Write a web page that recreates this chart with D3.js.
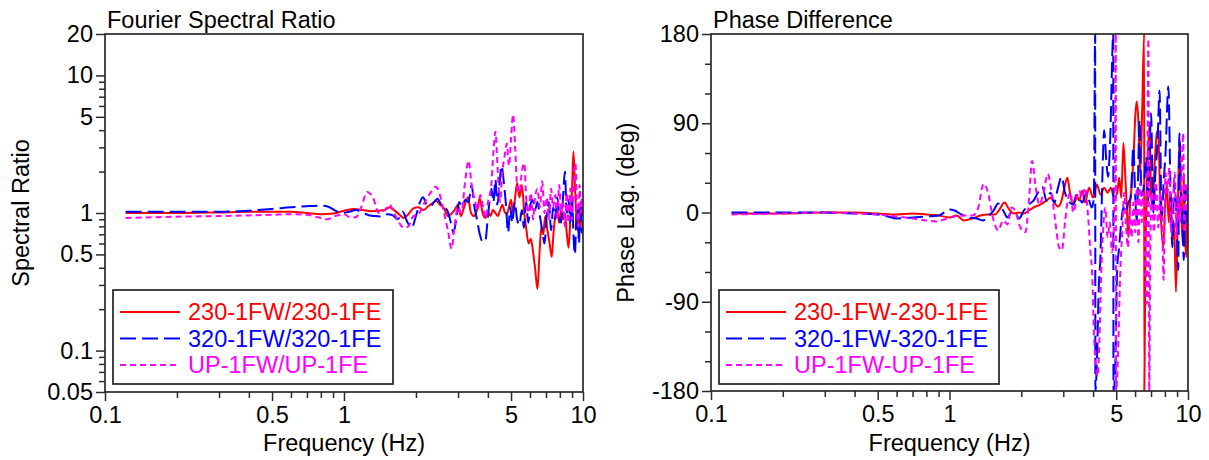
<!DOCTYPE html>
<html>
<head>
<meta charset="utf-8">
<script src="https://cdn.jsdelivr.net/npm/d3@7"></script>
<style>
  body { margin: 0; background: #fff; }
  text { font-family: "Liberation Sans", Arial, sans-serif; }
</style>
</head>
<body>
<svg id="chart" width="1209" height="460"></svg>
<script>
// ---- data: [frequency Hz, value] ----
const ratio230 = [[0.122,1.0],[0.2,1.0],[0.3,1.01],[0.4,1.02],[0.5,1.02],[0.6,1.02],[0.7,1.0],[0.8,0.98],[0.9,0.99],[1.0,1.04],[1.1,1.07],[1.2,1.05],[1.3,1.03],[1.4,1.04],[1.48,1.05],[1.55,1.1],[1.62,1.05],[1.7,0.98],[1.78,0.92],[1.86,0.98],[1.95,1.08],[2.05,1.1],[2.15,1.05],[2.25,1.12],[2.35,1.18],[2.43,1.22],[2.52,1.15],[2.62,1.08],[2.72,0.95],[2.8,0.98],[2.9,1.05],[3.0,1.15],[3.08,0.95],[3.18,1.1],[3.3,1.3],[3.4,1.0],[3.5,0.95],[3.6,1.05],[3.7,1.28],[3.8,1.0],[3.9,0.92],[4.0,1.02],[4.1,0.95],[4.2,1.05],[4.3,1.0],[4.4,0.95],[4.5,1.05],[4.6,1.15],[4.7,1.02],[4.8,0.98],[4.9,1.1],[5.0,1.25],[5.1,1.0],[5.2,1.3],[5.3,1.65],[5.42,1.3],[5.55,1.6],[5.68,1.0],[5.8,0.75],[5.92,0.6],[6.05,0.65],[6.18,0.52],[6.3,0.4],[6.45,0.28],[6.58,0.52],[6.7,0.8],[6.82,0.7],[6.95,0.95],[7.1,0.75],[7.25,0.6],[7.4,0.48],[7.52,0.7],[7.65,0.95],[7.8,1.05],[7.95,0.85],[8.1,1.05],[8.25,0.9],[8.4,1.0],[8.55,0.72],[8.7,0.56],[8.85,0.9],[9.0,1.5],[9.12,2.8],[9.25,1.6],[9.38,0.95],[9.5,0.75],[9.62,1.05],[9.75,0.8],[9.88,1.1],[10.0,0.95]];
const ratio320 = [[0.122,1.02],[0.2,1.02],[0.3,1.02],[0.4,1.04],[0.5,1.07],[0.6,1.1],[0.7,1.12],[0.8,1.13],[0.86,1.11],[0.92,1.04],[0.98,1.0],[1.05,1.02],[1.12,1.05],[1.2,1.0],[1.28,0.96],[1.36,0.95],[1.45,0.94],[1.52,0.98],[1.6,0.96],[1.68,0.9],[1.76,1.02],[1.84,0.86],[1.92,0.78],[2.0,0.95],[2.08,1.2],[2.14,1.3],[2.22,1.15],[2.3,1.12],[2.38,1.2],[2.46,1.27],[2.55,1.15],[2.64,1.1],[2.72,1.02],[2.8,0.85],[2.87,0.72],[2.95,0.9],[3.03,1.2],[3.12,1.12],[3.22,1.25],[3.32,1.2],[3.42,1.6],[3.5,1.15],[3.6,0.9],[3.7,0.7],[3.8,0.62],[3.9,0.62],[3.98,0.85],[4.06,1.2],[4.14,1.5],[4.22,1.2],[4.3,1.75],[4.38,1.15],[4.46,1.5],[4.56,2.2],[4.66,1.7],[4.76,1.15],[4.86,0.72],[4.96,1.1],[5.06,0.85],[5.18,1.2],[5.3,0.9],[5.42,0.82],[5.55,1.05],[5.66,0.78],[5.78,1.2],[5.9,0.85],[6.02,1.15],[6.15,1.25],[6.3,1.05],[6.45,1.2],[6.6,0.95],[6.75,0.75],[6.9,0.6],[7.05,0.95],[7.2,1.2],[7.35,0.75],[7.5,1.1],[7.65,0.9],[7.8,1.3],[7.95,0.95],[8.1,0.85],[8.25,1.3],[8.4,2.0],[8.55,1.0],[8.7,1.25],[8.85,0.85],[9.0,1.3],[9.12,0.7],[9.25,0.5],[9.38,0.95],[9.5,1.15],[9.62,0.6],[9.75,1.2],[9.88,0.72],[10.0,0.95]];
const ratioUP = [[0.122,0.92],[0.2,0.94],[0.3,0.95],[0.4,0.96],[0.5,0.97],[0.6,0.98],[0.7,0.97],[0.78,0.93],[0.85,0.9],[0.92,0.95],[1.0,0.98],[1.06,0.93],[1.12,0.93],[1.18,1.1],[1.25,1.42],[1.32,1.3],[1.4,1.0],[1.48,1.05],[1.55,1.15],[1.62,1.0],[1.7,0.85],[1.78,0.78],[1.86,0.8],[1.95,0.95],[2.05,0.98],[2.15,1.15],[2.3,1.4],[2.42,1.55],[2.52,1.35],[2.62,1.0],[2.72,0.75],[2.82,0.55],[2.9,0.8],[3.0,1.1],[3.1,1.0],[3.2,1.6],[3.32,2.4],[3.42,1.6],[3.52,1.25],[3.62,1.05],[3.72,1.35],[3.82,1.1],[3.92,0.92],[4.02,1.25],[4.12,1.5],[4.22,2.8],[4.3,3.9],[4.4,2.0],[4.5,1.2],[4.6,2.0],[4.7,2.6],[4.8,3.2],[4.9,2.2],[5.0,3.5],[5.1,5.2],[5.2,3.0],[5.3,1.6],[5.42,1.4],[5.55,2.0],[5.68,2.3],[5.8,1.2],[5.92,1.0],[6.05,1.4],[6.18,0.9],[6.3,1.3],[6.45,1.5],[6.6,1.1],[6.75,1.7],[6.9,1.0],[7.05,1.3],[7.2,0.9],[7.35,1.5],[7.5,1.1],[7.65,1.35],[7.8,0.9],[7.95,1.6],[8.1,1.0],[8.25,1.2],[8.4,0.8],[8.55,1.4],[8.7,0.85],[8.85,1.5],[9.0,0.9],[9.15,1.8],[9.3,2.3],[9.42,1.2],[9.55,0.8],[9.68,1.6],[9.8,1.0],[9.9,1.3],[10.0,1.1]];

const phase230 = [[0.122,-1],[0.2,-1],[0.3,0],[0.4,0],[0.5,-1],[0.6,-2],[0.7,-1],[0.8,-2],[0.9,-3],[1.0,-5],[1.07,-3],[1.15,-8],[1.25,-6],[1.35,-3],[1.45,-2],[1.55,-2],[1.62,3],[1.7,10],[1.78,3],[1.86,-1],[1.95,0],[2.05,-1],[2.15,2],[2.25,5],[2.4,8],[2.55,12],[2.65,15],[2.75,10],[2.85,6],[2.95,12],[3.05,28],[3.12,35],[3.2,20],[3.3,8],[3.4,18],[3.5,12],[3.6,22],[3.7,10],[3.85,25],[4.0,15],[4.15,28],[4.3,18],[4.45,25],[4.6,20],[4.75,25],[4.9,15],[5.05,20],[5.15,35],[5.25,15],[5.36,70],[5.45,40],[5.55,0],[5.62,-25],[5.72,10],[5.82,30],[5.92,60],[6.02,100],[6.1,112],[6.2,90],[6.3,40],[6.42,100],[6.55,180],[6.56,-180],[6.62,-60],[6.75,40],[6.9,90],[7.0,20],[7.1,5],[7.25,50],[7.4,80],[7.5,83],[7.65,10],[7.87,-35],[8.0,0],[8.15,30],[8.3,-10],[8.45,20],[8.6,-30],[8.75,-10],[8.9,-80],[9.05,-10],[9.2,75],[9.35,10],[9.5,-30],[9.6,40],[9.7,-20],[9.85,-45],[9.95,10],[10.0,-35]];
const phase320 = [[0.122,0],[0.2,0],[0.3,0],[0.4,-1],[0.5,-2],[0.55,-4],[0.6,-6],[0.7,-5],[0.8,-4],[0.9,-3],[0.95,0],[1.0,3],[1.05,2],[1.12,-2],[1.2,-5],[1.3,-6],[1.38,-8],[1.45,-4],[1.53,2],[1.6,9],[1.68,2],[1.75,-5],[1.82,0],[1.9,-2],[1.96,-6],[2.05,2],[2.15,8],[2.25,12],[2.35,20],[2.45,26],[2.55,12],[2.65,20],[2.75,10],[2.85,25],[2.95,36],[3.05,20],[3.15,12],[3.3,8],[3.45,18],[3.6,10],[3.75,20],[3.85,12],[3.95,5],[4.03,15],[4.08,180],[4.09,-180],[4.15,-150],[4.22,-80],[4.3,-40],[4.38,40],[4.45,83],[4.55,50],[4.62,36],[4.72,75],[4.86,180],[4.87,-180],[4.95,-160],[5.05,-55],[5.12,-40],[5.25,-10],[5.35,5],[5.5,0],[5.62,10],[5.75,15],[5.9,66],[6.0,20],[6.1,-8],[6.27,93],[6.38,17],[6.55,30],[6.68,56],[6.8,10],[7.0,100],[7.15,0],[7.3,40],[7.45,70],[7.6,123],[7.75,-8],[7.9,30],[8.05,60],[8.27,127],[8.45,20],[8.6,-35],[8.75,30],[8.9,10],[9.1,-58],[9.2,80],[9.35,20],[9.5,-20],[9.6,-48],[9.75,30],[9.9,-10],[10.0,5]];
const phaseUP = [[0.122,-2],[0.2,-1],[0.3,0],[0.4,-1],[0.5,-2],[0.6,-4],[0.7,-6],[0.8,-8],[0.88,-9],[0.95,-7],[1.05,-4],[1.15,-3],[1.25,-3],[1.32,5],[1.39,29],[1.45,20],[1.52,-5],[1.6,-18],[1.68,-8],[1.75,-12],[1.82,5],[1.9,0],[1.98,-15],[2.08,-20],[2.15,10],[2.22,52],[2.3,25],[2.38,8],[2.48,20],[2.58,39],[2.68,20],[2.78,-10],[2.88,-35],[2.96,-38],[3.05,-10],[3.12,10],[3.22,20],[3.3,0],[3.4,12],[3.5,22],[3.6,15],[3.7,25],[3.8,0],[3.9,-40],[3.97,-65],[4.03,-120],[4.1,-150],[4.18,-165],[4.25,-130],[4.32,-65],[4.4,-20],[4.5,5],[4.6,-25],[4.7,-10],[4.8,-40],[4.88,-20],[4.94,60],[4.98,180],[4.99,-180],[5.05,-165],[5.12,-120],[5.2,-60],[5.3,-20],[5.4,20],[5.5,-15],[5.6,-35],[5.7,0],[5.8,-25],[5.9,10],[6.0,-20],[6.1,25],[6.2,-30],[6.3,30],[6.4,-10],[6.5,20],[6.6,-40],[6.72,-92],[6.82,175],[6.88,-180],[6.95,-40],[7.05,20],[7.2,-20],[7.35,30],[7.5,-15],[7.65,20],[7.8,-10],[7.9,-68],[8.05,40],[8.2,20],[8.35,45],[8.5,-20],[8.65,10],[8.8,40],[8.95,-25],[9.1,15],[9.25,-10],[9.4,35],[9.55,80],[9.65,-20],[9.8,30],[9.9,0],[10.0,25]];

// ---- ticks / labels ----
const freqMajor  = [0.1, 0.5, 1, 5, 10];
const freqMinor  = [0.2, 0.3, 0.4, 0.6, 0.7, 0.8, 0.9, 2, 3, 4, 6, 7, 8, 9];
const ratioMajor = [0.05, 0.1, 0.5, 1, 5, 10, 20];
const ratioMinor = [0.06, 0.07, 0.08, 0.09, 0.2, 0.3, 0.4, 0.6, 0.7, 0.8, 0.9, 2, 3, 4, 6, 7, 8, 9];
const phaseMajor = [-180, -90, 0, 90, 180];
const phaseMinor = [-150, -120, -60, -30, 30, 60, 120, 150];

const seriesStyle = [
  { color: "#ff0000", dash: null },
  { color: "#0000ff", dash: "16,6" },
  { color: "#ff00ff", dash: "6,4" }
];
const ratioNames = ["230-1FW/230-1FE", "320-1FW/320-1FE", "UP-1FW/UP-1FE"];
const phaseNames = ["230-1FW-230-1FE", "320-1FW-320-1FE", "UP-1FW-UP-1FE"];

const svg = d3.select("#chart");
const FS = 23.5;
const AX = "#2a2a2a";

function drawPanel(p) {
  const x = d3.scaleLog().domain([0.1, 10]).range([p.x0, p.x1]);
  const y = p.y.range([p.y1, p.y0]);
  const g = svg.append("g");

  // 1) series, clipped to the frame
  g.append("clipPath").attr("id", "clip-" + p.id)
    .append("rect").attr("x", p.x0).attr("y", p.y0)
    .attr("width", p.x1 - p.x0).attr("height", p.y1 - p.y0);

  const line = d3.line().x(d => x(d[0])).y(d => y(d[1])).curve(d3.curveMonotoneX);
  const lines = g.append("g").attr("clip-path", `url(#clip-${p.id})`);
  p.series.forEach((s, i) => {
    lines.append("path")
      .attr("d", line(s))
      .attr("fill", "none")
      .attr("stroke", seriesStyle[i].color)
      .attr("stroke-width", 2)
      .attr("stroke-dasharray", seriesStyle[i].dash);
  });

  // 2) axes (ticks outside)
  const styleAxis = sel => {
    sel.select(".domain").remove();
    sel.selectAll(".tick line").attr("stroke", AX).attr("stroke-width", 1.5);
    sel.selectAll("text").attr("fill", "#000").style("font-size", FS + "px")
      .style("font-family", '"Liberation Sans", Arial, sans-serif');
  };
  g.append("g").attr("transform", `translate(0,${p.y1})`)
    .call(d3.axisBottom(x).tickValues(freqMinor).tickSize(6).tickFormat("")).call(styleAxis);
  g.append("g").attr("transform", `translate(0,${p.y1})`)
    .call(d3.axisBottom(x).tickValues(freqMajor).tickSize(9).tickPadding(5).tickFormat(d => String(d)))
    .call(styleAxis);
  g.append("g").attr("transform", `translate(${p.x0},0)`)
    .call(d3.axisLeft(y).tickValues(p.yMinor).tickSize(6).tickFormat("")).call(styleAxis);
  g.append("g").attr("transform", `translate(${p.x0},0)`)
    .call(d3.axisLeft(y).tickValues(p.yMajor).tickSize(9).tickPadding(3).tickFormat(d => String(d)))
    .call(styleAxis);

  // frame
  g.append("rect").attr("x", p.x0).attr("y", p.y0)
    .attr("width", p.x1 - p.x0).attr("height", p.y1 - p.y0)
    .attr("fill", "none").attr("stroke", AX).attr("stroke-width", 1.7);

  // 3) titles
  g.append("text").attr("x", p.x0 + 2).attr("y", 28)
    .style("font-size", FS + "px").text(p.title);
  g.append("text").attr("x", (p.x0 + p.x1) / 2).attr("y", 451)
    .attr("text-anchor", "middle").style("font-size", FS + "px").text("Frequency (Hz)");
  g.append("text")
    .attr("transform", `translate(${p.yLabelX},${(p.y0 + p.y1) / 2}) rotate(-90)`)
    .attr("text-anchor", "middle").style("font-size", FS + "px").text(p.yLabel);

  // 4) legend
  const lx = p.x0 + 8, ly = 290;
  const lg = g.append("g");
  lg.append("rect").attr("x", lx).attr("y", ly).attr("width", 280).attr("height", 94)
    .attr("fill", "#fff").attr("stroke", "#222").attr("stroke-width", 1.7);
  p.names.forEach((name, i) => {
    const cy = ly + 22 + i * 26.5;
    lg.append("line").attr("x1", lx + 7).attr("x2", lx + 67).attr("y1", cy).attr("y2", cy)
      .attr("stroke", seriesStyle[i].color).attr("stroke-width", 2)
      .attr("stroke-dasharray", seriesStyle[i].dash);
    lg.append("text").attr("x", lx + 75).attr("y", cy + 8)
      .attr("fill", seriesStyle[i].color).style("font-size", FS + "px").text(name);
  });
}

drawPanel({
  id: "ratio", x0: 105, x1: 583, y0: 34, y1: 392,
  y: d3.scaleLog().domain([0.05, 20]),
  yMajor: ratioMajor, yMinor: ratioMinor,
  series: [ratio230, ratio320, ratioUP], names: ratioNames,
  title: "Fourier Spectral Ratio", yLabel: "Spectral Ratio", yLabelX: 29
});
drawPanel({
  id: "phase", x0: 711, x1: 1188, y0: 34, y1: 391,
  y: d3.scaleLinear().domain([-180, 180]),
  yMajor: phaseMajor, yMinor: phaseMinor,
  series: [phase230, phase320, phaseUP], names: phaseNames,
  title: "Phase Difference", yLabel: "Phase Lag. (deg)", yLabelX: 634
});
</script>
</body>
</html>
